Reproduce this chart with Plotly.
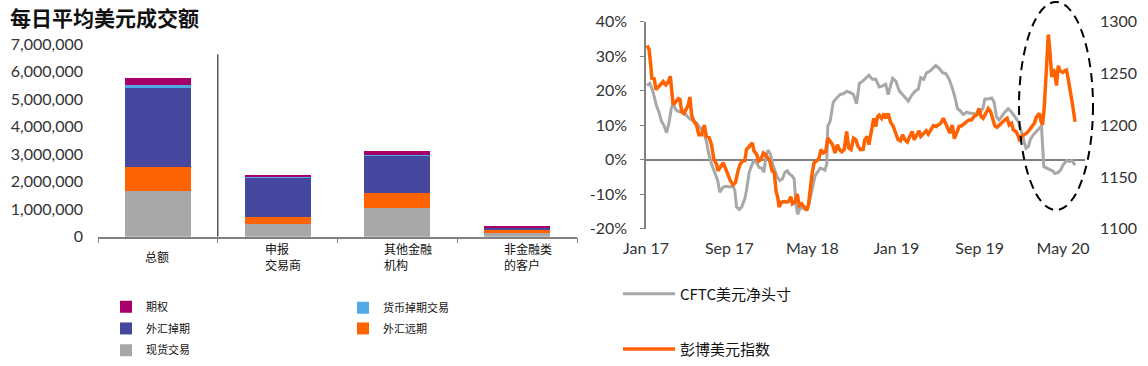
import plotly.graph_objects as go

W, H = 1148, 366

# ---------------- Left panel: stacked bars ----------------
categories = ["总额", "申报交易商", "其他金融机构", "非金融类的客户"]
category_labels = ["总额", "申报<br>交易商", "其他金融<br>机构", "非金融类<br>的客户"]
spot = [1650000, 470000, 1040000, 120000]        # 现货交易
fx_forward = [870000, 250000, 540000, 110000]    # 外汇远期
fx_swap = [2900000, 1410000, 1360000, 80000]     # 外汇掉期
ccy_swap = [110000, 40000, 40000, 10000]         # 货币掉期交易
fx_options = [250000, 60000, 140000, 50000]      # 期权
left_ticks = [0, 1000000, 2000000, 3000000, 4000000, 5000000, 6000000, 7000000]

# ---------------- Right panel: lines ----------------
cftc_dates = [
    "2017-01-04", "2017-01-12", "2017-01-20", "2017-01-27", "2017-02-01", "2017-02-07", "2017-02-15", "2017-02-22",
    "2017-03-02", "2017-03-09", "2017-03-16", "2017-03-21", "2017-03-29", "2017-04-05", "2017-04-15", "2017-04-24",
    "2017-05-01", "2017-05-09", "2017-05-19", "2017-05-28", "2017-06-07", "2017-06-17", "2017-06-26", "2017-07-03",
    "2017-07-11", "2017-07-21", "2017-07-29", "2017-08-04", "2017-08-14", "2017-08-24", "2017-09-02", "2017-09-12",
    "2017-09-17", "2017-09-22", "2017-09-30", "2017-10-07", "2017-10-16", "2017-10-21", "2017-10-29", "2017-11-05",
    "2017-11-11", "2017-11-19", "2017-11-27", "2017-12-04", "2017-12-11", "2017-12-16", "2017-12-23", "2017-12-30",
    "2018-01-05", "2018-01-12", "2018-01-19", "2018-01-26", "2018-02-03", "2018-02-10", "2018-02-17", "2018-02-23",
    "2018-03-02", "2018-03-09", "2018-03-14", "2018-03-19", "2018-03-27", "2018-04-05", "2018-04-13", "2018-04-20",
    "2018-04-27", "2018-05-03", "2018-05-09", "2018-05-16", "2018-05-24", "2018-06-01", "2018-06-07", "2018-06-12",
    "2018-06-15", "2018-06-22", "2018-07-01", "2018-07-11", "2018-07-21", "2018-07-31", "2018-08-09", "2018-08-19",
    "2018-08-29", "2018-09-07", "2018-09-15", "2018-09-24", "2018-10-04", "2018-10-13", "2018-10-23", "2018-11-02",
    "2018-11-12", "2018-11-22", "2018-12-01", "2018-12-08", "2018-12-21", "2018-12-31", "2019-01-09", "2019-01-19",
    "2019-01-29", "2019-02-05", "2019-02-14", "2019-02-24", "2019-03-06", "2019-03-13", "2019-03-22", "2019-03-30",
    "2019-04-09", "2019-04-18", "2019-04-26", "2019-05-06", "2019-05-16", "2019-05-25", "2019-06-04", "2019-06-14",
    "2019-06-21", "2019-06-28", "2019-07-05", "2019-07-15", "2019-07-25", "2019-08-03", "2019-08-13", "2019-08-23",
    "2019-09-02", "2019-09-10", "2019-09-16", "2019-09-26", "2019-10-06", "2019-10-13", "2019-10-20", "2019-10-27",
    "2019-11-03", "2019-11-13", "2019-11-23", "2019-12-03", "2019-12-13", "2019-12-23", "2019-12-29", "2020-01-06",
    "2020-01-14", "2020-01-21", "2020-01-26", "2020-02-03", "2020-02-09", "2020-02-16", "2020-02-22", "2020-02-28",
    "2020-03-06", "2020-03-17", "2020-03-24", "2020-04-02", "2020-04-07", "2020-04-17", "2020-04-25", "2020-05-02",
    "2020-05-12", "2020-05-20", "2020-05-27", "2020-06-05",
]
cftc_net = [
    21.5, 22.1, 20.2, 17.4, 15.5, 14.0, 11.2, 10.0,
    7.8, 10.7, 15.0, 16.4, 14.5, 14.0, 14.0, 13.6,
    12.6, 11.9, 11.2, 10.7, 9.3, 8.3, 5.4, 1.6,
    -1.2, -3.6, -6.0, -9.4, -7.9, -7.7, -7.9, -7.6,
    -8.9, -13.7, -14.4, -13.7, -11.3, -8.9, -3.6, -1.7,
    -0.3, -0.8, -2.2, -2.4, -3.6, 0.7, 2.8, 1.6,
    -1.2, -3.2, -5.1, -6.0, -5.5, -3.6, -3.2, -4.1,
    -4.6, -5.5, -12.7, -15.8, -13.8, -14.1, -14.4, -13.2,
    -9.8, -7.0, -4.6, -3.6, -2.4, -2.7, -3.0, -1.2,
    9.7, 11.2, 16.7, 17.9, 18.9, 19.2, 19.8, 19.5,
    18.9, 16.2, 22.1, 22.7, 23.8, 24.5, 23.3, 23.3,
    21.1, 21.4, 21.9, 18.9, 23.6, 22.7, 20.0, 18.9,
    17.6, 17.0, 18.6, 19.8, 20.5, 23.8, 23.3, 25.2,
    25.7, 26.7, 27.3, 26.5, 25.2, 25.0, 23.3, 20.5,
    18.1, 14.8, 14.3, 13.1, 13.8, 13.5, 13.5, 12.9,
    13.8, 14.8, 17.6, 17.6, 17.9, 16.7, 12.4, 11.5,
    12.4, 13.8, 14.8, 13.8, 12.4, 11.0, 9.0, 5.7,
    3.3, 3.8, 5.7, 7.1, 7.8, 8.5, 9.0, 9.8,
    -2.0, -2.6, -2.9, -3.3, -4.0, -3.7, -2.8, -1.3,
    -0.2, -0.5, -0.2, -1.6,
]

bbdxy_dates = [
    "2017-01-04", "2017-01-10", "2017-01-15", "2017-01-18", "2017-01-25", "2017-01-30", "2017-02-06", "2017-02-13",
    "2017-02-20", "2017-02-28", "2017-03-07", "2017-03-13", "2017-03-21", "2017-03-29", "2017-04-05", "2017-04-10",
    "2017-04-15", "2017-04-21", "2017-04-29", "2017-05-04", "2017-05-09", "2017-05-14", "2017-05-21", "2017-05-28",
    "2017-06-04", "2017-06-12", "2017-06-20", "2017-06-26", "2017-07-04", "2017-07-11", "2017-07-18", "2017-07-26",
    "2017-07-30", "2017-08-06", "2017-08-14", "2017-08-22", "2017-08-29", "2017-09-04", "2017-09-12", "2017-09-19",
    "2017-09-25", "2017-10-02", "2017-10-09", "2017-10-16", "2017-10-21", "2017-10-29", "2017-11-07", "2017-11-12",
    "2017-11-19", "2017-11-26", "2017-12-02", "2017-12-09", "2017-12-15", "2017-12-21", "2017-12-28", "2018-01-04",
    "2018-01-10", "2018-01-15", "2018-01-20", "2018-01-24", "2018-01-31", "2018-02-08", "2018-02-15", "2018-02-22",
    "2018-02-27", "2018-03-04", "2018-03-11", "2018-03-18", "2018-03-24", "2018-03-31", "2018-04-07", "2018-04-15",
    "2018-04-20", "2018-04-25", "2018-04-30", "2018-05-06", "2018-05-14", "2018-05-21", "2018-05-26", "2018-06-02",
    "2018-06-09", "2018-06-15", "2018-06-22", "2018-06-29", "2018-07-06", "2018-07-13", "2018-07-19", "2018-07-26",
    "2018-08-02", "2018-08-09", "2018-08-15", "2018-08-22", "2018-08-29", "2018-09-05", "2018-09-11", "2018-09-18",
    "2018-09-26", "2018-10-01", "2018-10-08", "2018-10-13", "2018-10-20", "2018-10-27", "2018-11-02", "2018-11-07",
    "2018-11-12", "2018-11-19", "2018-11-26", "2018-12-01", "2018-12-08", "2018-12-15", "2018-12-23", "2018-12-31",
    "2019-01-06", "2019-01-13", "2019-01-19", "2019-01-26", "2019-02-02", "2019-02-09", "2019-02-16", "2019-02-22",
    "2019-03-01", "2019-03-08", "2019-03-13", "2019-03-21", "2019-03-29", "2019-04-04", "2019-04-11", "2019-04-19",
    "2019-04-27", "2019-05-03", "2019-05-10", "2019-05-18", "2019-05-24", "2019-05-30", "2019-06-06", "2019-06-13",
    "2019-06-19", "2019-06-26", "2019-07-03", "2019-07-11", "2019-07-18", "2019-07-25", "2019-08-01", "2019-08-08",
    "2019-08-15", "2019-08-23", "2019-08-30", "2019-09-05", "2019-09-11", "2019-09-18", "2019-09-26", "2019-10-03",
    "2019-10-09", "2019-10-15", "2019-10-22", "2019-10-30", "2019-11-07", "2019-11-13", "2019-11-20", "2019-11-26",
    "2019-12-03", "2019-12-08", "2019-12-16", "2019-12-23", "2019-12-27", "2020-01-01", "2020-01-08", "2020-01-16",
    "2020-01-24", "2020-01-31", "2020-02-07", "2020-02-14", "2020-02-22", "2020-02-27", "2020-03-02", "2020-03-07",
    "2020-03-12", "2020-03-19", "2020-03-24", "2020-03-29", "2020-04-03", "2020-04-07", "2020-04-12", "2020-04-17",
    "2020-04-22", "2020-04-30", "2020-05-06", "2020-05-11", "2020-05-16", "2020-05-23", "2020-05-29", "2020-06-05",
]
bbdxy_index = [
    1277.1, 1273.3, 1257.5, 1245.4, 1244.8, 1234.6, 1236.8, 1240.0,
    1242.2, 1239.0, 1242.2, 1247.3, 1220.0, 1222.6, 1225.7, 1225.0,
    1213.0, 1211.4, 1215.5, 1219.3, 1227.3, 1209.8, 1203.5, 1200.3,
    1190.8, 1190.8, 1200.3, 1189.2, 1188.3, 1181.2, 1167.0, 1162.2,
    1155.9, 1159.0, 1163.8, 1157.4, 1151.1, 1146.4, 1142.6, 1144.8,
    1154.3, 1162.2, 1165.4, 1165.7, 1176.5, 1179.7, 1182.9, 1175.0,
    1172.4, 1165.4, 1167.0, 1173.3, 1171.9, 1169.2, 1165.4, 1155.9,
    1154.3, 1136.9, 1130.5, 1121.0, 1125.7, 1126.4, 1125.7, 1126.9,
    1131.1, 1124.1, 1125.7, 1133.6, 1122.5, 1124.1, 1121.0, 1117.8,
    1124.1, 1141.6, 1152.7, 1163.8, 1165.7, 1168.6, 1176.5, 1173.3,
    1174.6, 1187.6, 1184.5, 1181.2, 1173.3, 1181.2, 1176.5, 1174.3,
    1176.5, 1194.0, 1178.1, 1176.5, 1187.6, 1186.0, 1179.7, 1176.5,
    1176.5, 1186.0, 1189.2, 1181.2, 1194.0, 1206.7, 1198.8, 1208.3,
    1209.8, 1206.7, 1211.4, 1206.7, 1211.4, 1203.0, 1198.8, 1192.4,
    1186.0, 1185.0, 1190.8, 1186.0, 1183.8, 1189.2, 1194.0, 1186.0,
    1190.0, 1194.6, 1189.2, 1191.4, 1194.6, 1191.4, 1195.5, 1199.7,
    1198.8, 1200.3, 1201.9, 1206.7, 1201.9, 1198.8, 1192.4, 1200.3,
    1187.0, 1193.0, 1198.8, 1199.7, 1201.9, 1203.5, 1205.1, 1205.1,
    1208.3, 1210.5, 1216.2, 1208.3, 1206.7, 1211.0, 1216.2, 1213.0,
    1206.0, 1199.5, 1198.0, 1201.0, 1203.5, 1205.1, 1206.7, 1200.3,
    1201.9, 1195.5, 1193.8, 1189.2, 1184.5, 1189.2, 1190.8, 1192.4,
    1195.5, 1198.8, 1201.9, 1208.3, 1211.4, 1203.5, 1200.3, 1216.2,
    1247.9, 1287.6, 1270.2, 1246.4, 1254.3, 1249.5, 1238.4, 1257.5,
    1252.7, 1251.1, 1252.7, 1253.3, 1244.8, 1232.1, 1219.3, 1203.5,
]
date_tick_vals = ["2017-01-01", "2017-09-01", "2018-05-01", "2019-01-01", "2019-09-01", "2020-05-01"]
date_tick_text = ["Jan 17", "Sep 17", "May 18", "Jan 19", "Sep 19", "May 20"]
pct_ticks = [-20, -10, 0, 10, 20, 30, 40]
pct_tick_text = ["-20%", "-10%", "0%", "10%", "20%", "30%", "40%"]
index_ticks = [1100, 1150, 1200, 1250, 1300]

# ---------------- styling ----------------
GRAY, ORANGE, BLUE, LBLUE, MAGENTA = "#A8A8A8", "#FF6200", "#4648A0", "#4FAAE6", "#A8006A"
AXIS = "#808080"
TICKFONT = dict(family="Lato, 'Open Sans', sans-serif", size=16, color="#333333")
CJK = "'Noto Sans CJK SC', sans-serif"


def px_x(p):
    return p / W


def px_y(p):
    return 1 - p / H


fig = go.Figure()

bar_series = [
    ("现货交易", spot, GRAY, "legend5"),
    ("外汇远期", fx_forward, ORANGE, "legend4"),
    ("外汇掉期", fx_swap, BLUE, "legend3"),
    ("货币掉期交易", ccy_swap, LBLUE, "legend2"),
    ("期权", fx_options, MAGENTA, "legend"),
]
for name, vals, col, lg in bar_series:
    fig.add_trace(go.Bar(x=categories, y=vals, name=name, marker=dict(color=col, line=dict(width=0)),
                         xaxis="x", yaxis="y", legend=lg))

fig.add_trace(go.Scatter(x=cftc_dates, y=cftc_net, name="CFTC美元净头寸", mode="lines",
                         line=dict(color=GRAY, width=3), xaxis="x2", yaxis="y2", legend="legend6"))
fig.add_trace(go.Scatter(x=bbdxy_dates, y=bbdxy_index, name="彭博美元指数", mode="lines",
                         line=dict(color=ORANGE, width=3.5), xaxis="x2", yaxis="y3", legend="legend7"))

legend_common = dict(bgcolor="rgba(0,0,0,0)", borderwidth=0, xanchor="left", yanchor="middle",
                     font=dict(family=CJK, size=11, color="#111111"))
line_legend_common = dict(bgcolor="rgba(0,0,0,0)", borderwidth=0, xanchor="left", yanchor="middle",
                          font=dict(family=CJK, size=15, color="#111111"), itemwidth=52)

layout_legends = {
    "legend": dict(x=px_x(106), y=px_y(311), **legend_common),
    "legend2": dict(x=px_x(343), y=px_y(312), **legend_common),
    "legend3": dict(x=px_x(106), y=px_y(333), **legend_common),
    "legend4": dict(x=px_x(343), y=px_y(333), **legend_common),
    "legend5": dict(x=px_x(106), y=px_y(355), **legend_common),
    "legend6": dict(x=px_x(618), y=px_y(298), **line_legend_common),
    "legend7": dict(x=px_x(618), y=px_y(354), **line_legend_common),
}

annotations = [
    dict(text="每日平均美元成交额", x=px_x(8), y=px_y(17), xref="paper", yref="paper",
         xanchor="left", yanchor="middle", showarrow=False,
         font=dict(family=CJK, size=21, color="#111111", weight=700)),
]
for cat, lab in zip(categories, category_labels):
    annotations.append(dict(text=lab, x=cat, xref="x", y=px_y(260), yref="paper", xanchor="left",
                            yanchor="middle", xshift=-15, align="left", showarrow=False,
                            font=dict(family=CJK, size=12, color="#111111")))

shapes = [
    # separator between total and breakdown
    dict(type="line", xref="x", yref="y", x0=0.5, x1=0.5, y0=0, y1=6640000,
         line=dict(color="#555555", width=1.5)),
    # dashed ellipse highlighting 2020
    dict(type="circle", xref="paper", yref="paper", x0=px_x(1019), x1=px_x(1093), y0=px_y(213), y1=px_y(2),
         line=dict(color="#000000", width=2, dash="9px,6px")),
]

fig.update_layout(
    width=W, height=H, autosize=False,
    margin=dict(l=0, r=0, t=0, b=0, pad=0),
    paper_bgcolor="white", plot_bgcolor="white",
    barmode="stack", bargap=0.45,
    showlegend=True,
    annotations=annotations, shapes=shapes,
    xaxis=dict(domain=[px_x(98), px_x(577)], anchor="y", type="category", automargin=False,
               showline=True, linecolor=AXIS, linewidth=1.5, ticks="outside", tickson="boundaries",
               ticklen=5, tickcolor=AXIS, showticklabels=False, showgrid=False, fixedrange=True),
    yaxis=dict(domain=[px_y(240), px_y(45)], anchor="x", range=[0, 7000000], tickvals=left_ticks,
               tickformat=",d", showgrid=False, zeroline=False, showline=False, ticks="",
               automargin=False, ticklabelstandoff=14, tickfont=TICKFONT),
    xaxis2=dict(domain=[px_x(646), px_x(1085)], anchor="y2", type="date", automargin=False,
                range=["2017-01-01", "2020-07-04"], tickvals=date_tick_vals, ticktext=date_tick_text,
                showline=False, showgrid=False, zeroline=False, ticks="", ticklabelstandoff=8,
                tickfont=TICKFONT),
    xaxis3=dict(overlaying="x2", anchor="free", position=px_y(162), type="date", automargin=False,
                range=["2017-01-01", "2020-07-04"], tickvals=date_tick_vals, showticklabels=False,
                showline=False, showgrid=False, zeroline=False, ticks="outside", ticklen=5,
                tickcolor=AXIS),
    yaxis2=dict(domain=[px_y(232), px_y(22)], anchor="x2", range=[-20, 40], tickvals=pct_ticks,
                ticktext=pct_tick_text, showgrid=False, showline=True, linecolor=AXIS, linewidth=1.5,
                ticks="outside", ticklen=4, tickcolor=AXIS, zeroline=True, zerolinecolor=AXIS,
                zerolinewidth=1.5, automargin=False, ticklabelstandoff=10, tickfont=TICKFONT),
    yaxis3=dict(overlaying="y2", side="right", anchor="x2", range=[1100, 1300], tickvals=index_ticks,
                showgrid=False, showline=False, zeroline=False, ticks="", automargin=False,
                ticklabelstandoff=14, tickfont=TICKFONT),
    **layout_legends,
)

fig.write_html("out.html", config={"displayModeBar": False},
               post_script="document.body.style.margin='0';document.body.style.overflow='hidden';")
